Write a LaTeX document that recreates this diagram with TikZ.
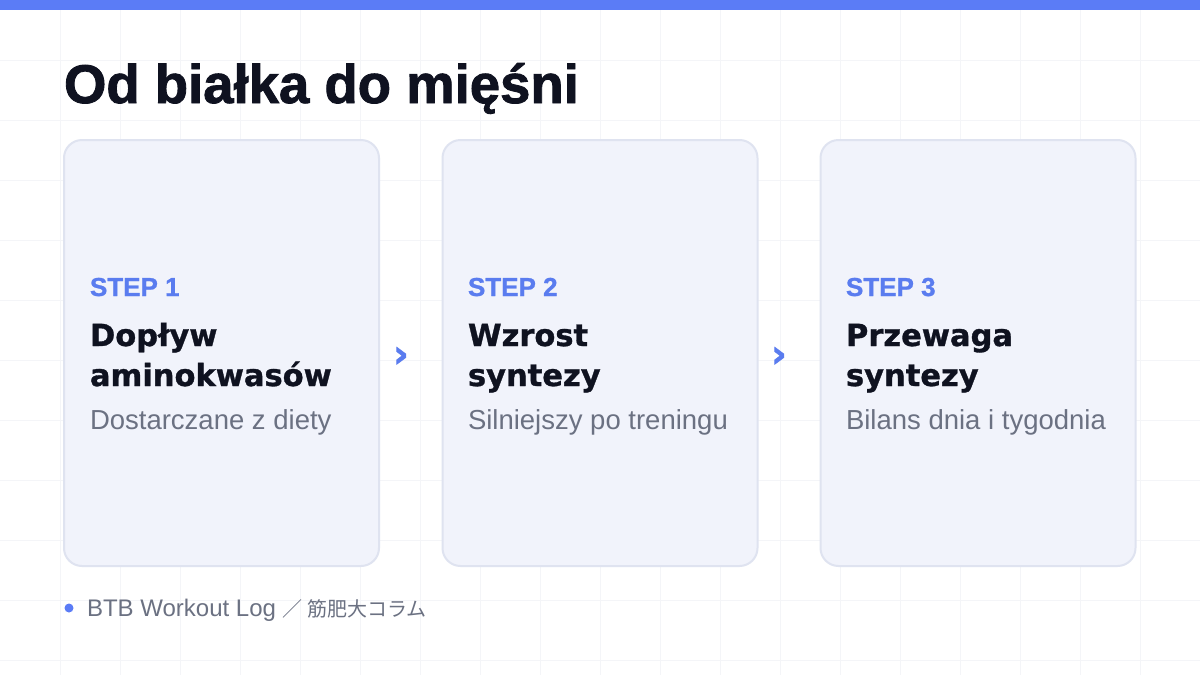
\documentclass[tikz,border=0pt]{standalone}
\usepackage{fontspec}
\setmainfont{Liberation Sans}
\newfontfamily\heavyfont[FakeBold=1.6]{Liberation Sans Bold}
\newfontfamily\stepfont[FakeBold=1.0]{Liberation Sans Bold}
\newfontfamily\cardfont[FakeBold=1.0]{DejaVu Sans Bold}
\newfontfamily\chevfont[FakeBold=1.5]{DejaVu Sans Bold}
\newfontfamily\cjkfont{Noto Sans CJK JP}
\definecolor{accent}{HTML}{5B7CF6}
\definecolor{steptxt}{HTML}{5A7CEF}
\definecolor{darktxt}{HTML}{0F1220}
\definecolor{graytxt}{HTML}{6B7182}
\definecolor{cardfill}{HTML}{F1F3FB}
\definecolor{cardline}{HTML}{DFE3F0}
\definecolor{gridcol}{HTML}{F4F5F8}
\begin{document}
\begin{tikzpicture}[x=1pt,y=-1pt,
  gridline/.style={draw=gridcol,line width=1pt},
  card/.style={draw=cardline,fill=cardfill,line width=2pt,rounded corners=18pt,
    minimum width=315pt,minimum height=426pt,inner sep=0pt},
  txt/.style={anchor=base west,inner sep=0pt,outer sep=0pt},
  steplabel/.style={txt,text=steptxt,font=\stepfont\fontsize{26}{26}\selectfont},
  cardtitle/.style={txt,text=darktxt,font=\cardfont\fontsize{30.5}{30.5}\selectfont},
  cardsub/.style={txt,text=graytxt,font=\fontsize{27.5}{27.5}\selectfont},
  chevron/.style={inner sep=0pt,text=steptxt,font=\chevfont\fontsize{38}{38}\selectfont}
]
\useasboundingbox (0,0) rectangle (1200,675);
\fill[white] (0,0) rectangle (1200,675);
\foreach \gx in {60,120,...,1140} \draw[gridline] (\gx,0) -- (\gx,675);
\foreach \gy in {60,120,...,660} \draw[gridline] (0,\gy) -- (1200,\gy);
\fill[accent] (0,0) rectangle (1200,10);

\node[txt,text=darktxt,font=\heavyfont\fontsize{54.5}{54.5}\selectfont] (title) at (64,103) {Od białka do mięśni};

\node[card] (card1) at (221.5,353) {};
\node[card] (card2) at (600,353) {};
\node[card] (card3) at (978,353) {};

\node[chevron] (a1) at (401,357) {›};
\node[chevron] (a2) at (779,357) {›};

% card 1
\node[steplabel] (s1) at (90,296) {STEP 1};
\node[cardtitle] (t1a) at (90,346) {Dopływ};
\node[cardtitle] (t1b) at (90,386) {aminokwasów};
\node[cardsub] (d1) at (90,429) {Dostarczane z diety};
% card 2
\node[steplabel] (s2) at (468,296) {STEP 2};
\node[cardtitle] (t2a) at (468,346) {Wzrost};
\node[cardtitle] (t2b) at (468,386) {syntezy};
\node[cardsub] (d2) at (468,429) {Silniejszy po treningu};
% card 3
\node[steplabel] (s3) at (846,296) {STEP 3};
\node[cardtitle] (t3a) at (846,346) {Przewaga};
\node[cardtitle] (t3b) at (846,386) {syntezy};
\node[cardsub] (d3) at (846,429) {Bilans dnia i tygodnia};

% footer
\node[circle,fill=accent,minimum size=9pt,inner sep=0pt] (dot) at (69,608) {};
\node[txt,text=graytxt,font=\fontsize{24}{24}\selectfont] (footer) at (87,616)
  {BTB Workout Log {\cjkfont\fontsize{20}{20}\selectfont ／ 筋肥大コラム}};
\end{tikzpicture}
\end{document}
